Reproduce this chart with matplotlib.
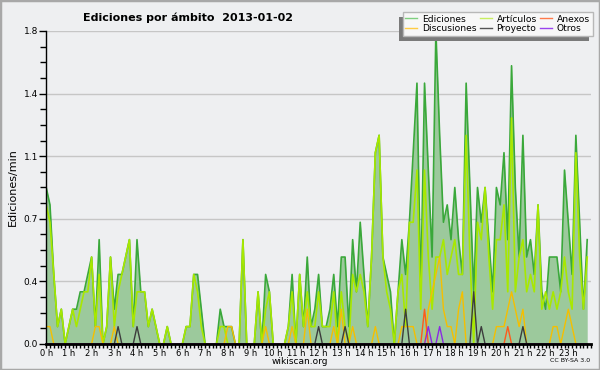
import numpy as np
import matplotlib
matplotlib.use("Agg")
import matplotlib.pyplot as plt
from matplotlib.lines import Line2D
from matplotlib.patches import Rectangle
from matplotlib.ticker import FixedLocator, FormatStrFormatter

# edits per minute, one value per 10-minute slot (144 slots in the day)
ediciones = [
    0.9, 0.8, 0.4, 0.1, 0.2, 0.0, 0.1, 0.2, 0.2, 0.3, 0.3, 0.4,
    0.5, 0.1, 0.6, 0.0, 0.1, 0.5, 0.2, 0.4, 0.4, 0.5, 0.6, 0.1,
    0.6, 0.3, 0.3, 0.1, 0.2, 0.1, 0.0, 0.0, 0.1, 0.0, 0.0, 0.0,
    0.0, 0.1, 0.1, 0.4, 0.4, 0.2, 0.0, 0.0, 0.0, 0.0, 0.2, 0.1,
    0.1, 0.1, 0.0, 0.0, 0.6, 0.0, 0.0, 0.0, 0.3, 0.0, 0.4, 0.3,
    0.0, 0.0, 0.0, 0.0, 0.1, 0.4, 0.0, 0.4, 0.1, 0.5, 0.1, 0.2,
    0.4, 0.1, 0.1, 0.2, 0.4, 0.1, 0.5, 0.5, 0.1, 0.6, 0.3, 0.7,
    0.4, 0.1, 0.5, 1.1, 1.2, 0.5, 0.4, 0.3, 0.0, 0.3, 0.6, 0.4,
    0.7, 1.1, 1.5, 0.3, 1.5, 1.0, 0.5, 1.8, 1.2, 0.7, 0.8, 0.6,
    0.9, 0.6, 0.4, 1.5, 0.9, 0.3, 0.9, 0.7, 0.9, 0.6, 0.3, 0.9,
    0.8, 1.1, 0.6, 1.6, 0.9, 0.5, 1.2, 0.5, 0.6, 0.4, 0.8, 0.3,
    0.2, 0.5, 0.5, 0.5, 0.3, 1.0, 0.7, 0.4, 1.2, 0.7, 0.2, 0.6,
]
articulos = [
    0.8, 0.7, 0.4, 0.1, 0.2, 0.0, 0.1, 0.2, 0.1, 0.2, 0.3, 0.3,
    0.5, 0.1, 0.4, 0.0, 0.1, 0.5, 0.1, 0.3, 0.4, 0.5, 0.6, 0.1,
    0.3, 0.3, 0.3, 0.1, 0.2, 0.1, 0.0, 0.0, 0.1, 0.0, 0.0, 0.0,
    0.0, 0.1, 0.1, 0.4, 0.3, 0.1, 0.0, 0.0, 0.0, 0.0, 0.1, 0.1,
    0.0, 0.0, 0.0, 0.0, 0.6, 0.0, 0.0, 0.0, 0.3, 0.0, 0.2, 0.3,
    0.0, 0.0, 0.0, 0.0, 0.1, 0.3, 0.0, 0.4, 0.1, 0.3, 0.1, 0.1,
    0.3, 0.1, 0.1, 0.1, 0.3, 0.0, 0.3, 0.1, 0.0, 0.4, 0.3, 0.4,
    0.3, 0.1, 0.5, 1.1, 1.2, 0.5, 0.3, 0.2, 0.0, 0.3, 0.4, 0.1,
    0.7, 0.7, 1.0, 0.2, 1.0, 0.5, 0.2, 0.5, 0.5, 0.6, 0.4, 0.5,
    0.6, 0.4, 0.4, 1.2, 0.5, 0.0, 0.7, 0.6, 0.9, 0.5, 0.2, 0.6,
    0.6, 0.8, 0.3, 1.3, 0.3, 0.5, 0.6, 0.3, 0.4, 0.3, 0.8, 0.2,
    0.3, 0.2, 0.3, 0.2, 0.3, 0.5, 0.3, 0.2, 1.1, 0.5, 0.2, 0.5,
]
discusiones = [
    0.1, 0.1, 0.0, 0.0, 0.0, 0.0, 0.0, 0.0, 0.0, 0.0, 0.0, 0.0,
    0.0, 0.1, 0.1, 0.0, 0.0, 0.0, 0.1, 0.0, 0.0, 0.0, 0.0, 0.0,
    0.0, 0.0, 0.0, 0.0, 0.0, 0.0, 0.0, 0.0, 0.0, 0.0, 0.0, 0.0,
    0.0, 0.0, 0.0, 0.0, 0.0, 0.0, 0.0, 0.0, 0.0, 0.0, 0.0, 0.0,
    0.1, 0.1, 0.0, 0.0, 0.0, 0.0, 0.0, 0.0, 0.0, 0.0, 0.1, 0.0,
    0.0, 0.0, 0.0, 0.0, 0.0, 0.1, 0.0, 0.0, 0.0, 0.2, 0.0, 0.0,
    0.0, 0.0, 0.0, 0.0, 0.1, 0.0, 0.2, 0.0, 0.0, 0.1, 0.0, 0.0,
    0.0, 0.0, 0.0, 0.1, 0.0, 0.0, 0.0, 0.0, 0.0, 0.0, 0.1, 0.1,
    0.1, 0.1, 0.0, 0.0, 0.0, 0.2, 0.3, 0.4, 0.5, 0.2, 0.1, 0.1,
    0.0, 0.2, 0.3, 0.0, 0.0, 0.0, 0.0, 0.0, 0.0, 0.0, 0.0, 0.1,
    0.1, 0.1, 0.2, 0.3, 0.2, 0.1, 0.2, 0.0, 0.0, 0.0, 0.0, 0.0,
    0.0, 0.0, 0.1, 0.1, 0.0, 0.1, 0.2, 0.1, 0.0, 0.0, 0.0, 0.0,
]
proyecto = [
    0.0, 0.0, 0.0, 0.0, 0.0, 0.0, 0.0, 0.0, 0.0, 0.0, 0.0, 0.0,
    0.0, 0.0, 0.0, 0.0, 0.0, 0.0, 0.0, 0.1, 0.0, 0.0, 0.0, 0.0,
    0.1, 0.0, 0.0, 0.0, 0.0, 0.0, 0.0, 0.0, 0.0, 0.0, 0.0, 0.0,
    0.0, 0.0, 0.0, 0.0, 0.0, 0.0, 0.0, 0.0, 0.0, 0.0, 0.0, 0.0,
    0.0, 0.0, 0.0, 0.0, 0.0, 0.0, 0.0, 0.0, 0.0, 0.0, 0.0, 0.0,
    0.0, 0.0, 0.0, 0.0, 0.0, 0.0, 0.0, 0.0, 0.0, 0.0, 0.0, 0.0,
    0.1, 0.0, 0.0, 0.0, 0.0, 0.0, 0.0, 0.1, 0.0, 0.0, 0.0, 0.0,
    0.0, 0.0, 0.0, 0.0, 0.0, 0.0, 0.0, 0.0, 0.0, 0.0, 0.0, 0.2,
    0.0, 0.0, 0.0, 0.0, 0.0, 0.0, 0.0, 0.0, 0.0, 0.0, 0.0, 0.0,
    0.0, 0.0, 0.0, 0.0, 0.0, 0.3, 0.0, 0.1, 0.0, 0.0, 0.0, 0.0,
    0.0, 0.0, 0.0, 0.0, 0.0, 0.0, 0.1, 0.0, 0.0, 0.0, 0.0, 0.0,
    0.0, 0.0, 0.0, 0.0, 0.0, 0.0, 0.0, 0.0, 0.0, 0.0, 0.0, 0.0,
]
anexos = [0.0] * 100 + [0.2] + [0.0] * 21 + [0.1] + [0.0] * 21
otros = [0.0] * 101 + [0.1, 0.0, 0.0, 0.1] + [0.0] * 39

series_names = ["Ediciones", "Discusiones", "Artículos", "Proyecto", "Anexos", "Otros"]
colors = {"Ediciones": "#3aa83a", "Artículos": "#a8e800", "Discusiones": "#f5bf00",
          "Proyecto": "#3c3c3c", "Anexos": "#ff5a1a", "Otros": "#8a2be2"}
legend_colors = {"Ediciones": "#7fcf7f", "Artículos": "#c8ee60", "Discusiones": "#ffcc44",
                 "Proyecto": "#555555", "Anexos": "#ff7a4a", "Otros": "#9a44ee"}

hours = np.arange(len(ediciones)) * 10 / 60.0
bg = "#eeeff1"

fig = plt.figure(figsize=(6, 3.7), dpi=100, facecolor=bg)
ax = fig.add_axes([0.077, 0.0703, 0.908, 0.846], facecolor=bg)

ax.fill_between(hours, 0, ediciones, color="#9cc99c", lw=0, zorder=1)
ax.plot(hours, ediciones, color=colors["Ediciones"], lw=1.2, zorder=2)
ax.plot(hours, articulos, color=colors["Artículos"], lw=1.2, zorder=2)
ax.plot(hours, discusiones, color=colors["Discusiones"], lw=1.0, zorder=2)
ax.plot(hours, proyecto, color=colors["Proyecto"], lw=1.0, zorder=2)
ax.plot(hours, anexos, color=colors["Anexos"], lw=1.0, zorder=2)
ax.plot(hours, otros, color=colors["Otros"], lw=1.0, zorder=2)

ax.set_xlim(0, 24)
ax.set_ylim(0, 1.8)

ax.yaxis.set_major_locator(FixedLocator(np.linspace(0, 1.8, 6)))
ax.yaxis.set_minor_locator(FixedLocator(np.arange(0, 1.81, 0.09)))
ax.yaxis.set_major_formatter(FormatStrFormatter("%.1f"))
ax.xaxis.set_major_locator(FixedLocator(np.arange(0, 24)))
ax.xaxis.set_minor_locator(FixedLocator(np.arange(0, 24.01, 1 / 6.0)))
ax.set_xticklabels(["%d h" % h for h in range(24)])

ax.tick_params(axis="y", which="major", length=5, width=1, labelsize=6.5, pad=1, colors="black")
ax.tick_params(axis="y", which="minor", length=4, width=1)
ax.tick_params(axis="x", which="both", length=3, width=1, labelsize=6, pad=0.5)
ax.grid(axis="y", which="major", color="#c6c6c6", lw=1)
ax.set_axisbelow(True)

for side in ["top", "right"]:
    ax.spines[side].set_visible(False)
ax.spines["left"].set_linewidth(1)
ax.spines["bottom"].set_linewidth(2)
ax.spines["bottom"].set_zorder(3)

ax.set_ylabel("Ediciones/min", fontsize=8, labelpad=4)

fig.text(0.313, 0.953, "Ediciones por ámbito  2013-01-02", ha="center", va="center",
         fontsize=8, fontweight="bold")
fig.text(0.5, 0.022, "wikiscan.org", ha="center", va="center", fontsize=6.5)
fig.text(0.983, 0.026, "CC BY-SA 3.0", ha="right", va="center", fontsize=4.5)

handles = [Line2D([], [], color=legend_colors[n], lw=1) for n in series_names]
leg = fig.legend(handles, series_names, ncol=3, loc="upper right",
                 bbox_to_anchor=(0.988, 0.968), borderaxespad=0, fontsize=6.6,
                 frameon=True, fancybox=False, edgecolor="#b8b8b8",
                 facecolor="#f7f7f7", framealpha=1,
                 handlelength=1.3, handletextpad=0.5, columnspacing=0.4,
                 labelspacing=0.05, borderpad=0.3)
leg.set_zorder(6)

# drop shadow below-left of the legend box
fig.canvas.draw()
bb = leg.get_window_extent().transformed(fig.transFigure.inverted())
dx, dy = 4 / 600.0, 5 / 370.0
fig.add_artist(Rectangle((bb.x0 - dx, bb.y0 - dy), bb.width, bb.height,
                         transform=fig.transFigure, facecolor="#7a7a7a",
                         edgecolor="none", zorder=5))

fig.patches.append(Rectangle((0, 0), 1, 1, transform=fig.transFigure, fill=False,
                             edgecolor="#a8a8a8", lw=2.5))

plt.savefig("out.png", dpi=100, facecolor=bg)
